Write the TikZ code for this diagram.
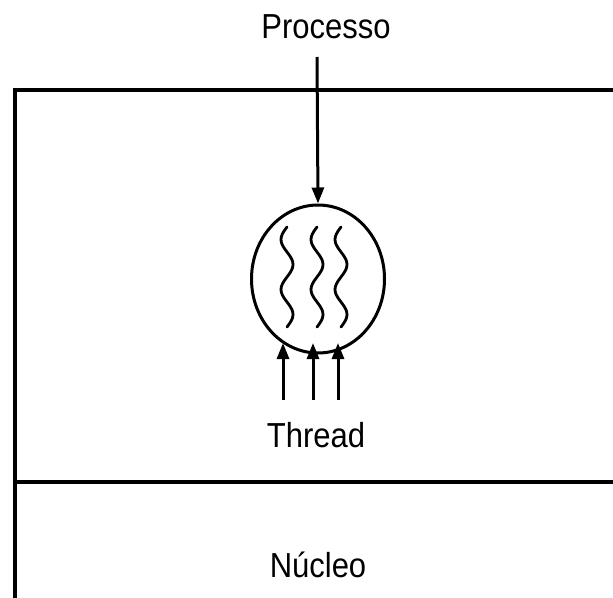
\documentclass[tikz,border=0pt]{standalone}
\usepackage{fontspec}
\setmainfont{Liberation Sans}
\usetikzlibrary{arrows.meta,shapes.geometric}
\tikzset{
  frame/.style={line width=3.6pt},
  label text/.style={font=\fontsize{31}{31}\selectfont, inner sep=0pt, yscale=1.12},
  flow/.style={line width=3pt, -{Triangle[length=16pt,width=12pt]}},
  strand/.style={line width=2.8pt, line cap=round},
}
\begin{document}
\begin{tikzpicture}[x=1pt,y=-1pt]
  \useasboundingbox (0,0) rectangle (613,597);
  \clip (0,0) rectangle (613,597);

  % user space and kernel space
  \draw[frame] (15,610) -- (15,90) -- (630,90);
  \draw[frame] (15,482) -- (630,482);

  % the process and its threads
  \node[ellipse, draw, line width=3pt, minimum width=133pt, minimum height=148pt, inner sep=0pt]
    (proc) at (318,279) {};
  \foreach \cx in {287,317,341}
    \draw[strand] plot[smooth, domain=0:100, samples=41]
      ({\cx - 6*sin(\x*7.2)}, {227+\x});

  % labels
  \node[label text, anchor=base] (ptext) at (326,38) {Processo};
  \node[label text, anchor=base] (ttext) at (316,447) {Thread};
  \node[label text, anchor=base] (ktext) at (318,577) {Núcleo};

  % arrows
  \coordinate (ptop) at (317,57);
  \draw[flow] (ptop) -- (proc.north);
  \foreach \tx/\n in {283/a,313/b,338/c}{
    \coordinate (t\n) at (\tx,400);
    \coordinate (h\n) at (\tx,343);
    \draw[flow] (t\n) -- (h\n);
  }
\end{tikzpicture}
\end{document}
